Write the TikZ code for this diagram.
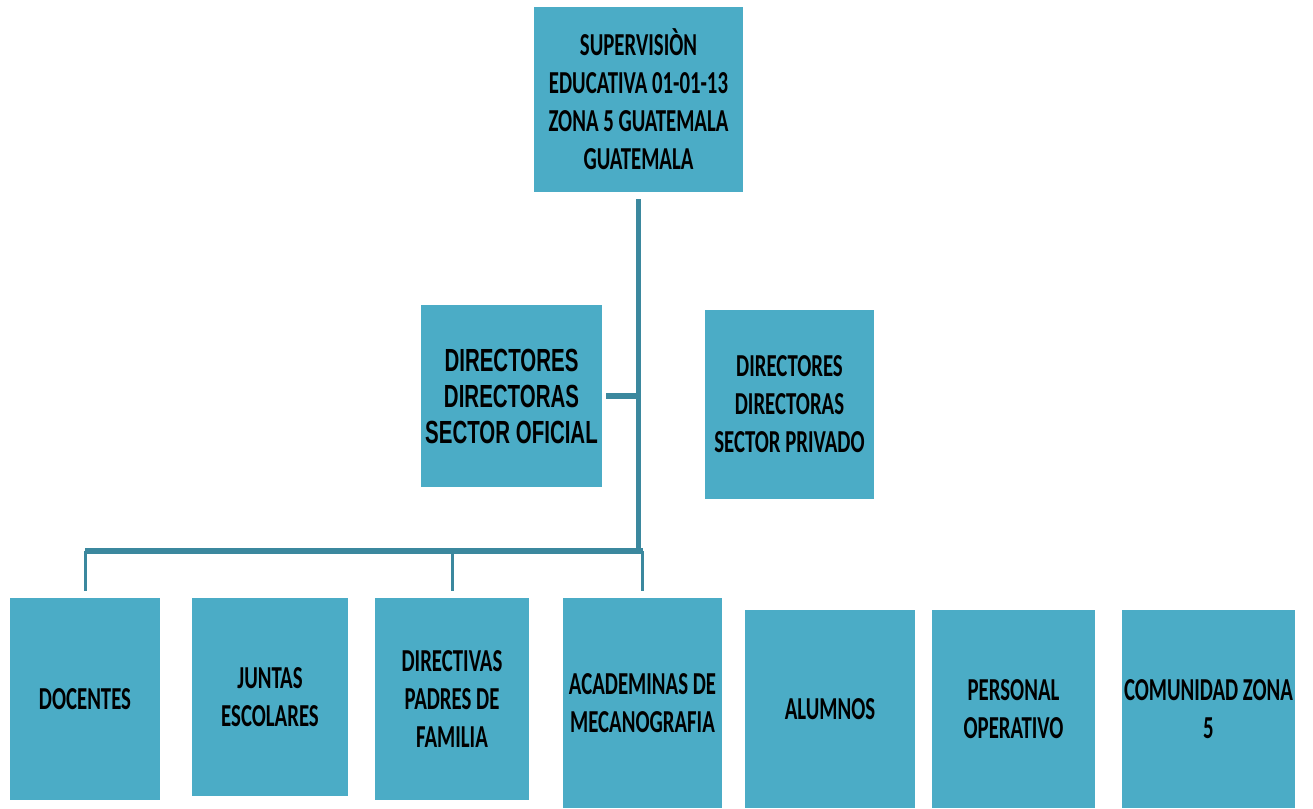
\documentclass[tikz,border=0pt]{standalone}
\usepackage{fontspec}
\newfontfamily\chartfont[FakeStretch=0.65]{Carlito}
\newfontfamily\arialfont[FakeStretch=0.64]{Liberation Sans}
\definecolor{boxblue}{HTML}{4BACC6}
\definecolor{linkblue}{HTML}{3B889E}
\tikzset{
  unit/.style={fill=boxblue, inner sep=0pt, outer sep=0pt, align=center,
    font=\chartfont\bfseries\fontsize{32}{38}\selectfont},
  trunk/.style={draw=linkblue, line width=5pt},
  branch/.style={draw=linkblue, line width=3pt},
}

\begin{document}
\begin{tikzpicture}[x=1pt, y=-1pt]
   \useasboundingbox (0,0) rectangle (1313,808);

   % head
   \node[unit, minimum width=209, minimum height=185] (super) at (638.5, 99.5)
     {SUPERVISIÒN\\EDUCATIVA 01-01-13\\ZONA 5 GUATEMALA\\GUATEMALA};

   % directors
   \node[unit, minimum width=181, minimum height=182,
     font=\arialfont\bfseries\fontsize{32}{36}\selectfont] (oficial) at (511.5, 396)
     {DIRECTORES\\DIRECTORAS\\SECTOR OFICIAL};
   \node[unit, minimum width=169, minimum height=189] (privado) at (789.5, 404.5)
     {DIRECTORES\\DIRECTORAS\\SECTOR PRIVADO};

   % bottom row
   \node[unit, minimum width=150, minimum height=202] (docentes) at (85, 699) {DOCENTES};
   \node[unit, minimum width=156, minimum height=198] (juntas) at (270, 697) {JUNTAS\\ESCOLARES};
   \node[unit, minimum width=154, minimum height=202] (directivas) at (452, 699)
     {DIRECTIVAS\\PADRES DE\\FAMILIA};
   \node[unit, minimum width=159, minimum height=210] (academias) at (642.5, 703)
     {ACADEMINAS DE\\MECANOGRAFIA};
   \node[unit, minimum width=170, minimum height=198] (alumnos) at (830, 709) {ALUMNOS};
   \node[unit, minimum width=163, minimum height=198] (personal) at (1013.5, 709)
     {PERSONAL\\OPERATIVO};
   \node[unit, minimum width=173, minimum height=198] (comunidad) at (1208.5, 709)
     {COMUNIDAD ZONA\\5};

   % junctions
   \coordinate (hub) at (638.5, 551);
   \coordinate (barL) at (docentes.north |- hub);
   \coordinate (barR) at (academias.north |- hub);

   % connectors
   \draw[trunk, shorten <=7pt] (super.south) -- (hub);
   \draw[trunk, line width=6pt, shorten <=4pt] (oficial.east) -- (oficial.east -| super.south);
   \draw[trunk, line width=6pt] (barL) -- (barR);
   \draw[branch, shorten >=7pt] (barL) -- (docentes.north);
   \draw[branch, shorten >=7pt] (directivas.north |- hub) -- (directivas.north);
   \draw[branch, shorten >=7pt] (barR) -- (academias.north);
\end{tikzpicture}
\end{document}
